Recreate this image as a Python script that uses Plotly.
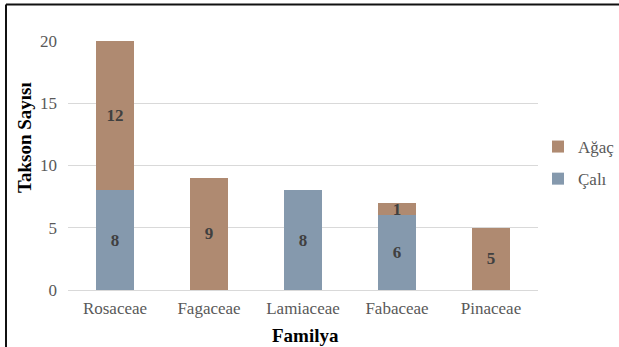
import plotly.graph_objects as go

# Plant families and taxon counts by growth form
familyalar = ["Rosaceae", "Fagaceae", "Lamiaceae", "Fabaceae", "Pinaceae"]
cali = [8, None, 8, 6, None]
agac = [12, 9, None, 1, 5]

renk_cali = "#8599AD"
renk_agac = "#AF8A71"
yazi = "Liberation Serif"

W, H = 619, 347
ML, MR, MT, MB = 68, 81, 41, 57
pw = W - ML - MR
ph = H - MT - MB


def px_x(p):
    return (p - ML) / pw


def px_y(p):
    return (H - MB - p) / ph


fig = go.Figure()
for ad, deger, renk, sira in [("Çalı", cali, renk_cali, 2), ("Ağaç", agac, renk_agac, 1)]:
    fig.add_trace(go.Bar(
        name=ad, x=familyalar, y=deger, legendgroup=ad, legendrank=sira,
        marker=dict(color=renk, line=dict(width=0)),
        texttemplate="<b>%{y}</b>",
        textposition="inside", insidetextanchor="middle",
        constraintext="none", textangle=0,
        textfont=dict(family=yazi, size=17, color="#404040"),
        hoverinfo="skip",
    ))

fig.update_layout(
    width=W, height=H,
    margin=dict(l=ML, r=MR, t=MT, b=MB, autoexpand=False),
    barmode="stack", bargap=0.6,
    paper_bgcolor="white", plot_bgcolor="white",
    font=dict(family=yazi, size=17, color="#595959"),
    showlegend=True,
    legend=dict(
        xref="container", yref="container",
        x=538 / W, xanchor="left", y=(H - 163) / H, yanchor="middle",
        traceorder="grouped", font=dict(family=yazi, size=17, color="#595959"),
        itemwidth=30, tracegroupgap=7, bgcolor="rgba(0,0,0,0)",
    ),
    xaxis=dict(
        showline=False, ticks="", showgrid=False,
        tickfont=dict(family=yazi, size=17, color="#595959"),
        ticklabelstandoff=6,
    ),
    yaxis=dict(
        range=[0, 20], tickvals=[0, 5, 10, 15, 20],
        showgrid=True, gridcolor="#D9D9D9", gridwidth=1,
        zeroline=True, zerolinecolor="#D9D9D9", zerolinewidth=1,
        showline=False, ticks="",
        tickfont=dict(family=yazi, size=17, color="#595959"),
        ticklabelstandoff=10,
    ),
    annotations=[
        dict(text="<b>Takson Sayısı</b>", textangle=-90, xref="paper", yref="paper",
             x=px_x(24), y=px_y(138), xanchor="center", yanchor="middle",
             showarrow=False, font=dict(family=yazi, size=19, color="black")),
        dict(text="<b>Familya</b>", xref="paper", yref="paper",
             x=px_x(305), y=px_y(335), xanchor="center", yanchor="middle",
             showarrow=False, font=dict(family=yazi, size=19, color="black")),
    ],
    shapes=[
        dict(type="line", xref="paper", yref="paper",
             x0=px_x(6), x1=px_x(W + 40), y0=px_y(4.5), y1=px_y(4.5),
             line=dict(color="#111111", width=2)),
        dict(type="line", xref="paper", yref="paper",
             x0=px_x(6), x1=px_x(6), y0=px_y(4.5), y1=px_y(H + 40),
             line=dict(color="#111111", width=2)),
    ],
)

fig.write_html("out.html")
